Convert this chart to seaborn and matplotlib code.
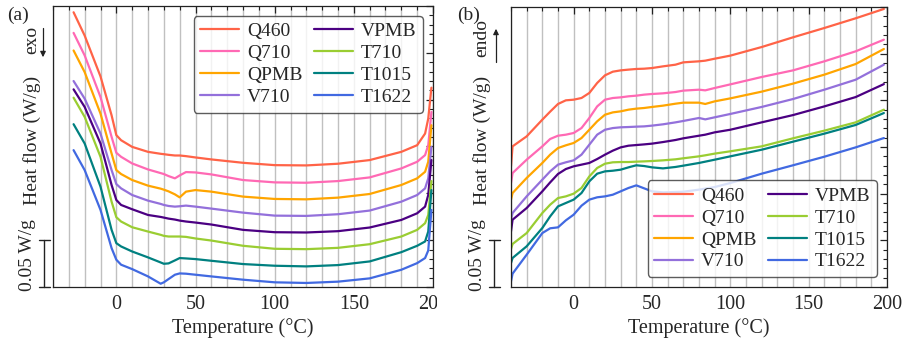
import pandas as pd
import matplotlib
matplotlib.use("Agg")
import matplotlib.pyplot as plt
import seaborn as sns
from matplotlib.lines import Line2D
from matplotlib.ticker import MultipleLocator
from matplotlib.transforms import Bbox, TransformedBbox, blended_transform_factory

# sample names and colours (legend order)
samples = ["Q460", "Q710", "QPMB", "V710", "VPMB", "T710", "T1015", "T1622"]
colors = ["#FF6347", "#FF69B4", "#FFA500", "#9370DB", "#4B0082", "#9ACD32", "#008080", "#4169E1"]

# (a) heat flow vs temperature, exo down
temp_a = [-27, -20, -10, -3, 0, 3, 10, 20, 28, 30, 33, 37, 40, 44, 50, 60, 80, 100, 120, 140, 160, 180, 190, 195, 197, 199]
q460_a = [0.2933, 0.2684, 0.2248, 0.1833, 0.1621, 0.1567, 0.1496, 0.1443, 0.1422, 0.1418, 0.1411, 0.1404, 0.1404, 0.1397,
          0.1383, 0.1362, 0.1326, 0.1301, 0.1298, 0.1316, 0.1355, 0.1443, 0.1514, 0.1638, 0.1798, 0.2128]
q710_a = [0.2713, 0.2472, 0.2028, 0.1603, 0.1433, 0.1390, 0.1319, 0.1255, 0.1216, 0.1206, 0.1184, 0.1160, 0.1191, 0.1227,
          0.1223, 0.1202, 0.1142, 0.1117, 0.1113, 0.1131, 0.1170, 0.1266, 0.1337, 0.1408, 0.1514, 0.1869]
qpmb_a = [0.2525, 0.2294, 0.1851, 0.1425, 0.1248, 0.1206, 0.1142, 0.1082, 0.1050, 0.1039, 0.1021, 0.0989, 0.0957, 0.1018,
          0.1035, 0.1018, 0.0965, 0.0940, 0.0936, 0.0954, 0.0993, 0.1089, 0.1160, 0.1230, 0.1337, 0.1727]
v710_a = [0.2199, 0.2011, 0.1638, 0.1248, 0.1099, 0.1053, 0.0982, 0.0922, 0.0887, 0.0876, 0.0865, 0.0858, 0.0862, 0.0869,
          0.0858, 0.0837, 0.0794, 0.0762, 0.0759, 0.0777, 0.0816, 0.0911, 0.0982, 0.1053, 0.1160, 0.1496]
vpmb_a = [0.2110, 0.1922, 0.1532, 0.1089, 0.0929, 0.0876, 0.0830, 0.0769, 0.0748, 0.0741, 0.0730, 0.0720, 0.0709, 0.0699,
          0.0688, 0.0667, 0.0610, 0.0585, 0.0582, 0.0596, 0.0635, 0.0716, 0.0787, 0.0858, 0.0982, 0.1355]
t710_a = [0.2021, 0.1816, 0.1390, 0.0911, 0.0745, 0.0699, 0.0638, 0.0592, 0.0557, 0.0546, 0.0539, 0.0539, 0.0539, 0.0535,
          0.0518, 0.0496, 0.0440, 0.0408, 0.0404, 0.0418, 0.0457, 0.0539, 0.0610, 0.0681, 0.0769, 0.1131]
t1015_a = [0.1738, 0.1532, 0.1071, 0.0610, 0.0468, 0.0433, 0.0379, 0.0316, 0.0262, 0.0248, 0.0252, 0.0284, 0.0309, 0.0305,
           0.0298, 0.0280, 0.0245, 0.0227, 0.0220, 0.0234, 0.0273, 0.0372, 0.0440, 0.0486, 0.0592, 0.1035]
t1622_a = [0.1461, 0.1248, 0.0823, 0.0415, 0.0291, 0.0238, 0.0191, 0.0113, 0.0035, 0.0050, 0.0085, 0.0131, 0.0145, 0.0142,
           0.0131, 0.0113, 0.0078, 0.0050, 0.0043, 0.0057, 0.0092, 0.0184, 0.0255, 0.0309, 0.0390, 0.0823]

# (b) heat flow vs temperature, endo up
temp_b = [-40, -39, -30, -20, -15, -10, -5, 0, 5, 10, 15, 20, 25, 30, 35, 40, 45, 50, 57, 65, 70, 80, 84, 90, 100,
          120, 140, 160, 180, 198]
q460_b = [0.1293, 0.1507, 0.1614, 0.1793, 0.1879, 0.1961, 0.2000, 0.2007, 0.2025, 0.2079, 0.2186, 0.2268, 0.2307, 0.2321,
          0.2329, 0.2336, 0.2339, 0.2346, 0.2364, 0.2382, 0.2407, 0.2418, 0.2425, 0.2446, 0.2479, 0.2571, 0.2675, 0.2775,
          0.2879, 0.2979]
q710_b = [0.1114, 0.1221, 0.1364, 0.1507, 0.1586, 0.1621, 0.1632, 0.1650, 0.1703, 0.1811, 0.1935, 0.2007, 0.2025, 0.2032,
          0.2043, 0.2050, 0.2061, 0.2068, 0.2075, 0.2089, 0.2104, 0.2114, 0.2107, 0.2132, 0.2171, 0.2250, 0.2321, 0.2418,
          0.2525, 0.2650]
qpmb_b = [0.0936, 0.1007, 0.1168, 0.1329, 0.1418, 0.1489, 0.1518, 0.1543, 0.1596, 0.1685, 0.1775, 0.1846, 0.1871, 0.1882,
          0.1900, 0.1911, 0.1918, 0.1929, 0.1943, 0.1964, 0.1975, 0.1975, 0.1961, 0.1989, 0.2021, 0.2093, 0.2179, 0.2275,
          0.2389, 0.2550]
v710_b = [0.0721, 0.0793, 0.0971, 0.1150, 0.1239, 0.1311, 0.1336, 0.1357, 0.1418, 0.1525, 0.1632, 0.1685, 0.1703, 0.1711,
          0.1714, 0.1718, 0.1721, 0.1729, 0.1743, 0.1764, 0.1779, 0.1811, 0.1796, 0.1818, 0.1854, 0.1929, 0.2014, 0.2114,
          0.2221, 0.2382]
vpmb_b = [0.0596, 0.0721, 0.0846, 0.1025, 0.1121, 0.1211, 0.1264, 0.1293, 0.1311, 0.1329, 0.1371, 0.1418, 0.1461, 0.1496,
          0.1514, 0.1521, 0.1528, 0.1536, 0.1553, 0.1575, 0.1593, 0.1621, 0.1632, 0.1657, 0.1685, 0.1764, 0.1842, 0.1935,
          0.2035, 0.2174]
t710_b = [0.0407, 0.0461, 0.0578, 0.0793, 0.0882, 0.0953, 0.0971, 0.1000, 0.1061, 0.1185, 0.1275, 0.1321, 0.1336, 0.1339,
          0.1339, 0.1343, 0.1346, 0.1350, 0.1357, 0.1368, 0.1379, 0.1400, 0.1411, 0.1429, 0.1454, 0.1507, 0.1593, 0.1675,
          0.1764, 0.1900]
t1015_b = [0.0257, 0.0311, 0.0436, 0.0632, 0.0757, 0.0864, 0.0900, 0.0936, 0.1007, 0.1132, 0.1214, 0.1239, 0.1246, 0.1257,
           0.1282, 0.1304, 0.1296, 0.1282, 0.1271, 0.1286, 0.1300, 0.1329, 0.1343, 0.1364, 0.1400, 0.1471, 0.1557, 0.1643,
           0.1736, 0.1864]
t1622_b = [0.0061, 0.0143, 0.0346, 0.0578, 0.0629, 0.0639, 0.0714, 0.0775, 0.0871, 0.0936, 0.0961, 0.0971, 0.0989, 0.1025,
           0.1061, 0.1089, 0.1057, 0.1025, 0.1014, 0.1018, 0.1021, 0.1043, 0.1054, 0.1071, 0.1114, 0.1214, 0.1304, 0.1396,
           0.1496, 0.1596]

series_a = [q460_a, q710_a, qpmb_a, v710_a, vpmb_a, t710_a, t1015_a, t1622_a]
series_b = [q460_b, q710_b, qpmb_b, v710_b, vpmb_b, t710_b, t1015_b, t1622_b]


def long_frame(temps, series):
    parts = [pd.DataFrame({"T": temps, "hf": vals, "sample": name}) for name, vals in zip(samples, series)]
    return pd.concat(parts, ignore_index=True)


df_a = long_frame(temp_a, series_a)
df_b = long_frame(temp_b, series_b)

sns.set_style("white")
plt.rcParams["font.family"] = ["Liberation Serif", "DejaVu Serif"]

W, H = 902, 345
fig = plt.figure(figsize=(W / 100, H / 100), dpi=100)
ax1 = fig.add_axes([53 / W, 1 - 287 / H, 380 / W, 281 / H])
ax2 = fig.add_axes([511 / W, 1 - 287 / H, 376 / W, 280 / H])


def fx(px):
    return px / W


def fy(py):
    return 1 - py / H


for ax, df, loc in [(ax1, df_a, "upper right"), (ax2, df_b, "lower right")]:
    sns.lineplot(data=df, x="T", y="hf", hue="sample", hue_order=samples, palette=colors,
                 estimator=None, sort=False, lw=1.6, ax=ax)
    ax.set_xlim(-40, 200)
    ax.set_ylim(0, 0.3)
    ax.xaxis.set_major_locator(MultipleLocator(50))
    ax.xaxis.set_minor_locator(MultipleLocator(10))
    ax.yaxis.set_major_locator(MultipleLocator(0.05))
    ax.yaxis.set_minor_locator(MultipleLocator(0.01))
    ax.grid(True, which="both", axis="x", color="#c0c0c0", lw=1.0)
    ax.set_axisbelow(True)
    ax.tick_params(which="both", direction="in", top=True, right=True, labelleft=False,
                   color="#222222", labelsize=14.5, pad=6)
    ax.tick_params(which="major", length=5, width=0.9)
    ax.tick_params(which="minor", length=3, width=0.8)
    for s in ax.spines.values():
        s.set_color("#222222")
        s.set_linewidth(0.9)
    ax.set_xlabel("Temperature (°C)", fontsize=14.5, labelpad=3)
    ax.set_ylabel("")
    handles, labels = ax.get_legend_handles_labels()
    ax.legend(handles, labels, loc=loc, ncol=2, fontsize=14, frameon=True, edgecolor="#333333",
              framealpha=0.8, handlelength=2.0, handletextpad=0.4, columnspacing=0.6,
              labelspacing=0.22, borderpad=0.35, borderaxespad=0.5, fancybox=True)

# the "200" of panel (a) is cut off at the panel edge
clip = TransformedBbox(Bbox([[0, 0], [fx(437), 1]]), fig.transFigure)
for lbl in ax1.get_xticklabels():
    lbl.set_clip_on(True)
    lbl.set_clip_box(clip)

# side annotations: panel letter, y label, scale bar, exo/endo arrow
for ax, x0, letter, word, down in [(ax1, 0, "(a)", "exo", True), (ax2, 450, "(b)", "endo", False)]:
    fig.text(fx(x0 + 7), fy(15), letter, fontsize=14, va="center", ha="left")
    fig.text(fx(x0 + 32), fy(140), "Heat flow (W/g)", rotation=90, fontsize=14, va="center", ha="center")
    fig.text(fx(x0 + 28), fy(255), "0.05 W/g", rotation=90, fontsize=14, va="center", ha="center")
    tr = blended_transform_factory(fig.transFigure, ax.transData)
    xb = fx(x0 + 44)
    fig.add_artist(Line2D([xb, xb], [0, 0.05], transform=tr, color="#222222", lw=1.0))
    for yv in (0, 0.05):
        fig.add_artist(Line2D([fx(x0 + 39), fx(x0 + 50)], [yv, yv], transform=tr, color="#222222", lw=1.0))
    if down:
        fig.text(fx(x0 + 32), fy(40), word, rotation=90, fontsize=14, va="center", ha="center")
        fig.add_artist(Line2D([fx(x0 + 43)] * 2, [fy(28), fy(52)], color="#222222", lw=0.9))
        ax.annotate("", xy=(fx(x0 + 43), fy(60)), xytext=(fx(x0 + 43), fy(50)), xycoords="figure fraction",
                    arrowprops=dict(arrowstyle="-|>", color="#222222", lw=0.9, mutation_scale=8))
    else:
        fig.text(fx(x0 + 32), fy(38), word, rotation=90, fontsize=14, va="center", ha="center")
        fig.add_artist(Line2D([fx(x0 + 46)] * 2, [fy(62), fy(35)], color="#222222", lw=0.9))
        ax.annotate("", xy=(fx(x0 + 46), fy(26)), xytext=(fx(x0 + 46), fy(36)), xycoords="figure fraction",
                    arrowprops=dict(arrowstyle="-|>", color="#222222", lw=0.9, mutation_scale=8))

fig.savefig("out.png", dpi=100)
